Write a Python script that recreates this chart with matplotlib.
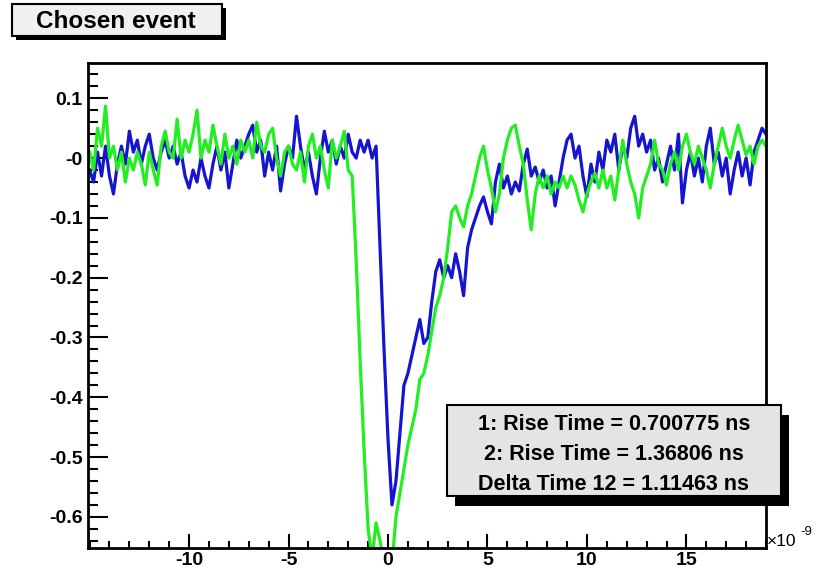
import numpy as np
import matplotlib
matplotlib.use("Agg")
import matplotlib.pyplot as plt
from matplotlib.patches import Rectangle

plt.rcParams['font.family'] = ['Liberation Sans', 'DejaVu Sans']
plt.rcParams['axes.unicode_minus'] = False

# sampling clock of the scope, ns
t_ns = np.round(np.arange(-15.0, 19.01, 0.2), 1)

# channel 1 (blue), volts
wave1 = [
    -0.02, -0.04, 0.01, -0.03, 0.02, -0.03, -0.06, -0.01, 0.02, -0.01,
    0.045, 0.01, 0.03, -0.01, 0.02, 0.04, 0.00, -0.02, 0.01, 0.03,
    0.00, 0.02, -0.01, 0.01, -0.03, -0.05, -0.02, -0.04, 0.00, -0.03,
    -0.05, -0.01, 0.02, -0.02, 0.01, -0.05, -0.01, 0.03, 0.00, 0.02,
    0.04, 0.055, 0.01, 0.03, -0.03, 0.01, -0.02, 0.02, -0.055, -0.01,
    0.02, 0.00, 0.07, 0.02, -0.02, 0.01, -0.03, -0.06, 0.00, 0.045,
    0.01, 0.03, -0.01, 0.02, 0.00, 0.04, 0.01, 0.00, 0.03, 0.01,
    0.03, 0.00, 0.02, -0.15, -0.32, -0.47, -0.58, -0.54, -0.46, -0.38,
    -0.36, -0.33, -0.30, -0.27, -0.31, -0.30, -0.24, -0.19, -0.17, -0.20,
    -0.18, -0.20, -0.16, -0.19, -0.23, -0.15, -0.12, -0.10, -0.08, -0.065,
    -0.09, -0.11, -0.04, -0.01, -0.05, -0.03, -0.06, -0.04, -0.055, -0.01,
    0.015, -0.03, -0.015, -0.04, -0.02, -0.05, -0.03, -0.08, -0.04, 0.00,
    0.03, 0.04, 0.00, 0.02, -0.03, -0.065, -0.01, -0.04, 0.01, -0.02,
    0.03, 0.01, 0.04, -0.02, 0.02, 0.00, 0.05, 0.07, 0.02, 0.04,
    0.01, 0.03, -0.02, 0.00, -0.04, -0.01, 0.02, -0.02, 0.04, -0.075,
    -0.02, 0.01, -0.03, 0.00, -0.04, 0.02, 0.05, -0.01, 0.01, -0.03,
    0.00, -0.06, -0.02, 0.01, -0.03, 0.00, -0.045, 0.01, 0.03, 0.05, 0.04,
]

# channel 2 (green), volts
wave2 = [
    0.01, -0.02, 0.05, 0.02, 0.087, 0.00, 0.02, -0.02, 0.01, -0.04,
    0.00, -0.02, 0.01, -0.01, -0.045, 0.01, -0.02, -0.045, 0.02, 0.045,
    0.01, 0.00, 0.065, 0.00, 0.03, 0.01, 0.04, 0.08, 0.00, 0.03,
    0.01, 0.055, 0.02, -0.01, 0.04, 0.00, 0.02, -0.01, 0.03, 0.01,
    0.03, 0.00, 0.06, 0.02, 0.01, 0.04, 0.05, 0.00, -0.03, 0.01,
    0.02, -0.01, -0.02, 0.01, -0.04, 0.02, 0.04, 0.00, 0.02, -0.02,
    -0.05, 0.03, 0.00, 0.02, 0.045, -0.02, -0.03, -0.17, -0.34, -0.49,
    -0.62, -0.67, -0.61, -0.64, -0.68, -0.70, -0.68, -0.60, -0.56, -0.52,
    -0.48, -0.45, -0.42, -0.37, -0.36, -0.33, -0.29, -0.25, -0.23, -0.20,
    -0.15, -0.09, -0.08, -0.10, -0.115, -0.08, -0.06, -0.03, 0.00, 0.02,
    -0.02, -0.05, -0.09, -0.06, 0.00, 0.03, 0.05, 0.055, 0.02, -0.01,
    -0.07, -0.12, -0.06, -0.03, -0.05, -0.03, -0.06, -0.04, -0.05, -0.03,
    -0.05, -0.03, -0.045, -0.07, -0.09, -0.06, -0.04, -0.025, -0.05, -0.02,
    -0.05, -0.03, -0.07, -0.02, 0.03, -0.01, -0.04, -0.06, -0.10, -0.05,
    -0.03, -0.01, 0.03, -0.01, -0.02, -0.045, -0.01, 0.01, -0.02, 0.02,
    0.04, 0.01, -0.01, 0.02, 0.00, -0.02, -0.05, -0.01, 0.02, 0.05,
    0.02, 0.00, 0.03, 0.055, 0.03, 0.005, 0.02, -0.01, 0.02, 0.03, 0.02,
]

xtick_vals = [-10, -5, 0, 5, 10, 15]
ytick_vals = [0.1, 0.0, -0.1, -0.2, -0.3, -0.4, -0.5, -0.6]
ytick_text = ['0.1', '-0', '-0.1', '-0.2', '-0.3', '-0.4', '-0.5', '-0.6']

title_text = 'Chosen event'
stats_lines = ['1: Rise Time = 0.700775 ns',
               '2: Rise Time = 1.36806 ns',
               'Delta Time 12 = 1.11463 ns']

W, H = 820, 574


def fx(x):
    return x / W


def fy(y):
    return 1 - y / H


fig = plt.figure(figsize=(W / 100, H / 100), dpi=100)
fig.patch.set_facecolor('white')
ax = fig.add_axes([fx(88), fy(548), (766 - 88) / W, (548 - 63) / H])

ax.plot(t_ns, wave1, color='#1515d0', lw=2.3)
ax.plot(t_ns, wave2, color='#22ee22', lw=2.3)

ax.set_xlim(-15.08, 19.0)
ax.set_ylim(-0.652, 0.159)

ax.set_xticks(xtick_vals)
ax.set_xticklabels([str(v) for v in xtick_vals])
ax.set_xticks(np.arange(-15, 19.5, 1), minor=True)
ax.set_yticks(ytick_vals)
ax.set_yticklabels(ytick_text)
ax.set_yticks(np.arange(-0.64, 0.15, 0.02), minor=True)

for s in ax.spines.values():
    s.set_linewidth(2.0)

ax.tick_params(axis='x', which='major', direction='in', length=10, width=1.5,
               labelsize=14, pad=3)
ax.tick_params(axis='x', which='minor', direction='in', length=5, width=1.5)
ax.tick_params(axis='y', which='major', direction='in', length=14.5, width=1.5,
               labelsize=14, pad=4)
ax.tick_params(axis='y', which='minor', direction='in', length=7, width=1.5)
for lab in ax.get_xticklabels() + ax.get_yticklabels():
    lab.set_fontweight('bold')

# axis exponent
fig.text(fx(767), fy(541), '\u00d710', fontsize=12.5, ha='left', va='center')
fig.text(fx(800), fy(532), '-9', fontsize=9.5, ha='left', va='center')

# title box with shadow
fig.add_artist(Rectangle((fx(16), fy(40)), (222 - 12) / W, (36 - 4) / H,
                         transform=fig.transFigure, facecolor='black',
                         edgecolor='black', lw=0))
fig.add_artist(Rectangle((fx(12), fy(36)), (222 - 12) / W, (36 - 4) / H,
                         transform=fig.transFigure, facecolor='#f0f0f0',
                         edgecolor='black', lw=1.5))
fig.text(fx(116), fy(21), title_text, fontsize=17.5, fontweight='bold',
         ha='center', va='center')

# stats box with shadow
bx0, bx1, by0, by1 = 447, 781, 405, 496
fig.add_artist(Rectangle((fx(bx0 + 8), fy(by1 + 10)), (bx1 - bx0) / W,
                         (by1 - by0) / H, transform=fig.transFigure,
                         facecolor='black', edgecolor='black', lw=0))
fig.add_artist(Rectangle((fx(bx0), fy(by1)), (bx1 - bx0) / W,
                         (by1 - by0) / H, transform=fig.transFigure,
                         facecolor='#e4e4e4', edgecolor='black', lw=1.5))
for i, line in enumerate(stats_lines):
    fig.text(fx((bx0 + bx1) / 2), fy(424 + 30 * i), line, fontsize=15.5,
             fontweight='bold', ha='center', va='center')

fig.savefig('out.png', dpi=100)
